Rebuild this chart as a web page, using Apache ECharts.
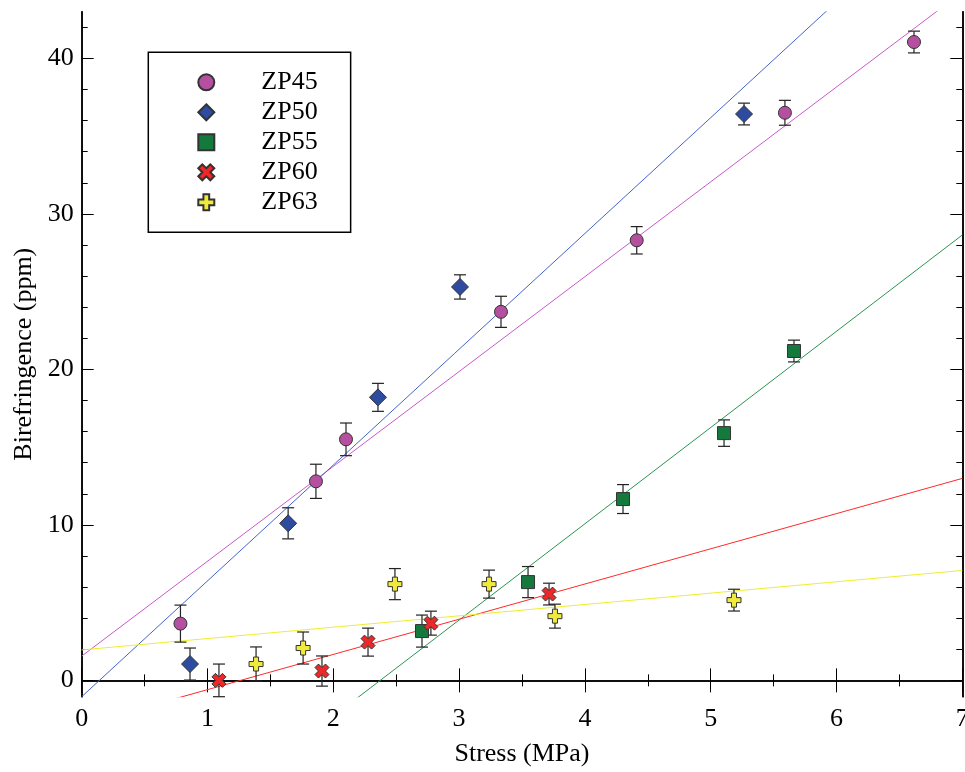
<!DOCTYPE html>
<html><head><meta charset="utf-8">
<script src="https://cdn.jsdelivr.net/npm/echarts@6/dist/echarts.min.js"></script>
<style>html,body{margin:0;padding:0;background:#fff}#c{width:965px;height:772px}</style>
</head><body><div id="c"></div>
<script>
// ---- data ----
const seriesNames = ['ZP45', 'ZP50', 'ZP55', 'ZP60', 'ZP63'];

const zp45X = [0.785, 1.862, 2.101, 3.333, 4.412, 5.590, 6.616];
const zp45Y = [3.65, 12.8, 15.5, 23.7, 28.3, 36.5, 41.05];
const zp45E = [1.19, 1.1, 1.05, 1.0, 0.88, 0.8, 0.7];

const zp50X = [0.861, 1.641, 2.355, 3.007, 5.265];
const zp50Y = [1.05, 10.1, 18.2, 25.3, 36.42];
const zp50E = [1.03, 1.0, 0.9, 0.78, 0.7];

const zp55X = [2.705, 3.548, 4.303, 5.106, 5.662];
const zp55Y = [3.17, 6.32, 11.66, 15.9, 21.18];
const zp55E = [1.03, 1.0, 0.93, 0.85, 0.7];

const zp60X = [1.091, 1.910, 2.276, 2.776, 3.715];
const zp60Y = [0.0, 0.6, 2.46, 3.68, 5.55];
const zp60E = [1.05, 0.97, 0.9, 0.77, 0.7];

const zp63X = [1.386, 1.760, 2.490, 3.238, 3.762, 5.185];
const zp63Y = [1.05, 2.08, 6.19, 6.19, 4.13, 5.16];
const zp63E = [1.1, 1.03, 1.0, 0.9, 0.77, 0.7];

// linear fits (slope, intercept)
const fitSlope = [6.10, 7.447, 6.19, 2.264, 0.73];
const fitIntercept = [1.56, -1.05, -14.69, -2.86, 1.96];
const fitRange = [0, 7];

const xTicks = [0, 1, 2, 3, 4, 5, 6, 7];
const yMajorTicks = [0, 10, 20, 30, 40];
const yMinorTicks = [2, 4, 6, 8, 12, 14, 16, 18, 22, 24, 26, 28, 32, 34, 36, 38, 42];

// ---- styles ----
const FONT = "'Liberation Serif', 'Times New Roman', serif";
const markerColors = ['#b4509f', '#2d4ca0', '#15783c', '#ee2828', '#f0ea3c'];
const lineColors = ['#c85ac8', '#4664c8', '#2a9450', '#ff2a2a', '#eeee30'];
const PLUS = 'path://M3.2,0 H6.8 V3.2 H10 V6.8 H6.8 V10 H3.2 V6.8 H0 V3.2 H3.2 Z';
const CROSS = 'path://M0,2.5 L2.5,0 L5,2.5 L7.5,0 L10,2.5 L7.5,5 L10,7.5 L7.5,10 L5,7.5 L2.5,10 L0,7.5 L2.5,5 Z';
const symbols = ['circle', 'diamond', 'rect', CROSS, PLUS];
const symbolSizes = [13, 17, 13, 14, 14];

const allX = [zp45X, zp50X, zp55X, zp60X, zp63X];
const allY = [zp45Y, zp50Y, zp55Y, zp60Y, zp63Y];
const allE = [zp45E, zp50E, zp55E, zp60E, zp63E];

const series = [];
seriesNames.forEach((name, i) => {
  series.push({
    name: name + ' fit', type: 'line', showSymbol: false, clip: true, silent: true, z: 1,
    lineStyle: { color: lineColors[i], width: 1 },
    data: fitRange.map(x => [x, fitSlope[i] * x + fitIntercept[i]])
  });
});
seriesNames.forEach((name, i) => {
  series.push({
    name: name + ' err', type: 'custom', z: 2,
    encode: { x: 0, y: [1, 2] },
    data: allX[i].map((x, k) => [x, allY[i][k] - allE[i][k], allY[i][k] + allE[i][k]]),
    renderItem: function (params, api) {
      const x = api.value(0);
      const p1 = api.coord([x, api.value(2)]);
      const p2 = api.coord([x, api.value(1)]);
      const hw = 6;
      const st = { stroke: '#222', lineWidth: 1.2 };
      return { type: 'group', children: [
        { type: 'line', shape: { x1: p1[0], y1: p1[1], x2: p2[0], y2: p2[1] }, style: st },
        { type: 'line', shape: { x1: p1[0] - hw, y1: p1[1], x2: p1[0] + hw, y2: p1[1] }, style: st },
        { type: 'line', shape: { x1: p2[0] - hw, y1: p2[1], x2: p2[0] + hw, y2: p2[1] }, style: st }
      ]};
    }
  });
});
seriesNames.forEach((name, i) => {
  series.push({
    name: name, type: 'scatter', z: 3,
    symbol: symbols[i], symbolSize: symbolSizes[i],
    itemStyle: { color: markerColors[i], borderColor: '#333', borderWidth: 1, opacity: 1 },
    data: allX[i].map((x, k) => [x, allY[i][k]])
  });
});

// legend error-bar glyphs (I-beams behind legend icons)
const legendIconX = 205.5, legendRow0 = 82.3, legendPitch = 30;
const legendGraphics = [{
  type: 'group', z: 1, children: seriesNames.map((n, i) => {
    const cy = legendRow0 + i * legendPitch;
    const st = { stroke: '#222', lineWidth: 1.2 };
    return { type: 'group', children: [
      { type: 'line', shape: { x1: legendIconX, y1: cy - 13, x2: legendIconX, y2: cy + 13 }, style: st },
      { type: 'line', shape: { x1: legendIconX - 6, y1: cy - 13, x2: legendIconX + 6, y2: cy - 13 }, style: st },
      { type: 'line', shape: { x1: legendIconX - 6, y1: cy + 13, x2: legendIconX + 6, y2: cy + 13 }, style: st }
    ]};
  })
}];

const axisLine = { show: true, lineStyle: { color: '#000', width: 1.5 } };
const tickStyle = { color: '#000', width: 1 };

const option = {
  animation: false,
  backgroundColor: '#fff',
  textStyle: { fontFamily: FONT },
  grid: { left: 81.7, right: 2.7, top: 11.7, bottom: 75.3, containLabel: false, outerBoundsMode: 'none' },
  legend: {
    data: seriesNames.map((n, i) => ({ name: n, icon: symbols[i] })),
    orient: 'vertical', left: 148.3, top: 52.3,
    padding: [15, 33, 15, 49],
    itemGap: 0, itemWidth: 16, itemHeight: 16,
    borderColor: '#000', borderWidth: 1.5, backgroundColor: '#fff',
    z: 5,
    textStyle: { fontFamily: FONT, fontSize: 26, color: '#000', lineHeight: 30, padding: [0, 0, 0, 42] }
  },
  graphic: legendGraphics,
  xAxis: [
    {
      type: 'value', position: 'bottom', min: 0, max: 7, interval: 1,
      axisLine: axisLine,
      axisTick: { inside: true, length: 12, lineStyle: tickStyle },
      minorTick: { show: true, splitNumber: 2, length: 6, lineStyle: tickStyle },
      splitLine: { show: false }, minorSplitLine: { show: false },
      axisLabel: { margin: 9, customValues: xTicks, fontFamily: FONT, fontSize: 26, color: '#000' },
      name: 'Stress (MPa)', nameLocation: 'middle', nameGap: 44,
      nameTextStyle: { fontFamily: FONT, fontSize: 26, color: '#000' }
    },
    {
      type: 'value', position: 'top', min: 0, max: 7, interval: 1,
      axisLine: axisLine,
      axisTick: { inside: true, length: 12, lineStyle: tickStyle },
      minorTick: { show: true, splitNumber: 2, length: 6, lineStyle: tickStyle },
      splitLine: { show: false }, minorSplitLine: { show: false },
      axisLabel: { show: false }
    }
  ],
  yAxis: [
    {
      type: 'value', position: 'left', min: -1.05, max: 43,
      axisLine: axisLine,
      axisTick: { inside: true, length: 12, lineStyle: tickStyle, customValues: yMajorTicks },
      splitLine: { show: false },
      axisLabel: { margin: 8, customValues: yMajorTicks, fontFamily: FONT, fontSize: 26, color: '#000' },
      name: 'Birefringence (ppm)', nameLocation: 'middle', nameGap: 45, nameRotate: 90,
      nameTextStyle: { fontFamily: FONT, fontSize: 26, color: '#000' }
    },
    {
      type: 'value', position: 'left', min: -1.05, max: 43,
      axisLine: axisLine,
      axisTick: { inside: true, length: 6, lineStyle: tickStyle, customValues: yMinorTicks },
      splitLine: { show: false }, axisLabel: { show: false }
    },
    {
      type: 'value', position: 'right', min: -1.05, max: 43,
      axisLine: axisLine,
      axisTick: { inside: true, length: 12, lineStyle: tickStyle, customValues: yMajorTicks },
      splitLine: { show: false }, axisLabel: { show: false }
    },
    {
      type: 'value', position: 'right', min: -1.05, max: 43,
      axisLine: axisLine,
      axisTick: { inside: true, length: 6, lineStyle: tickStyle, customValues: yMinorTicks },
      splitLine: { show: false }, axisLabel: { show: false }
    }
  ],
  series: series
};

const chart = echarts.init(document.getElementById('c'), null, { renderer: 'canvas' });
chart.setOption(option);
</script>
</body></html>
